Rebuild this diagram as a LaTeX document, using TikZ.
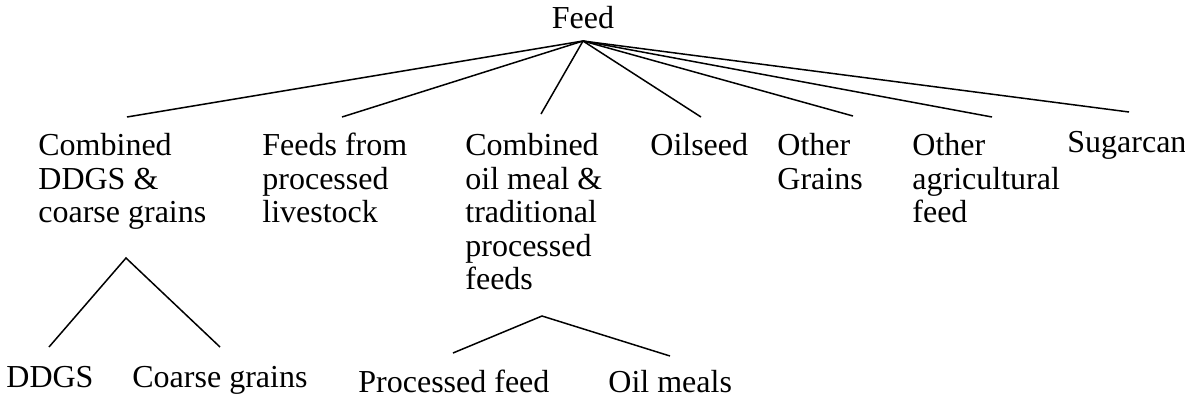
\documentclass[tikz,border=0pt]{standalone}
\usepackage{fontspec}
\setmainfont{Liberation Serif}
\usetikzlibrary{positioning}

\begin{document}
\begin{tikzpicture}[x=0.5pt,y=-0.5pt,
  label/.style={anchor=north west,inner sep=0pt,align=left,
    font=\fontsize{16}{16.75}\selectfont},
  link/.style={line width=0.75pt}]
  \useasboundingbox (0,0) rectangle (1185,398);
  % Wurzel
  \node[label,anchor=base] (feed) at (583,28) {Feed};
  \coordinate (root) at (583,41);
  % erste Ebene
  \node[label] (cdg) at (38,133) {Combined\\DDGS \&\\coarse grains};
  \node[label] (fpl) at (262,133) {Feeds from\\processed\\livestock};
  \node[label] (com) at (465,133) {Combined\\oil meal \&\\traditional\\processed\\feeds};
  \node[label] (oil) at (650,133) {Oilseed};
  \node[label] (ogr) at (777,133) {Other\\Grains};
  \node[label] (oaf) at (912,133) {Other\\agricultural\\feed};
  \node[label,anchor=base west] (sug) at (1067,152) {Sugarcan};
  \foreach \name/\x/\y in {cdg/127/117,fpl/342/117,com/541/114,oil/701/117,
      ogr/853/116,oaf/992/117,sug/1129/112}
    \coordinate (\name-in) at (\x,\y);
  \foreach \name in {cdg,fpl,com,oil,ogr,oaf,sug}
    \draw[link] (root) -- (\name-in);
  % zweite Ebene
  \node[label,anchor=base west] (ddgs) at (6,387) {DDGS};
  \node[label,anchor=base west] (cgr) at (132,387) {Coarse grains};
  \node[label,anchor=base west] (prf) at (358,392) {Processed feed};
  \node[label,anchor=base west] (olm) at (608,392) {Oil meals};
  \coordinate (cdg-out) at (126,258);
  \coordinate (ddgs-in) at (49,347);
  \coordinate (cgr-in) at (220,347);
  \coordinate (com-out) at (542,316);
  \coordinate (prf-in) at (453,353);
  \coordinate (olm-in) at (670,356);
  \draw[link] (ddgs-in) -- (cdg-out) -- (cgr-in);
  \draw[link] (prf-in) -- (com-out) -- (olm-in);
\end{tikzpicture}
\end{document}
